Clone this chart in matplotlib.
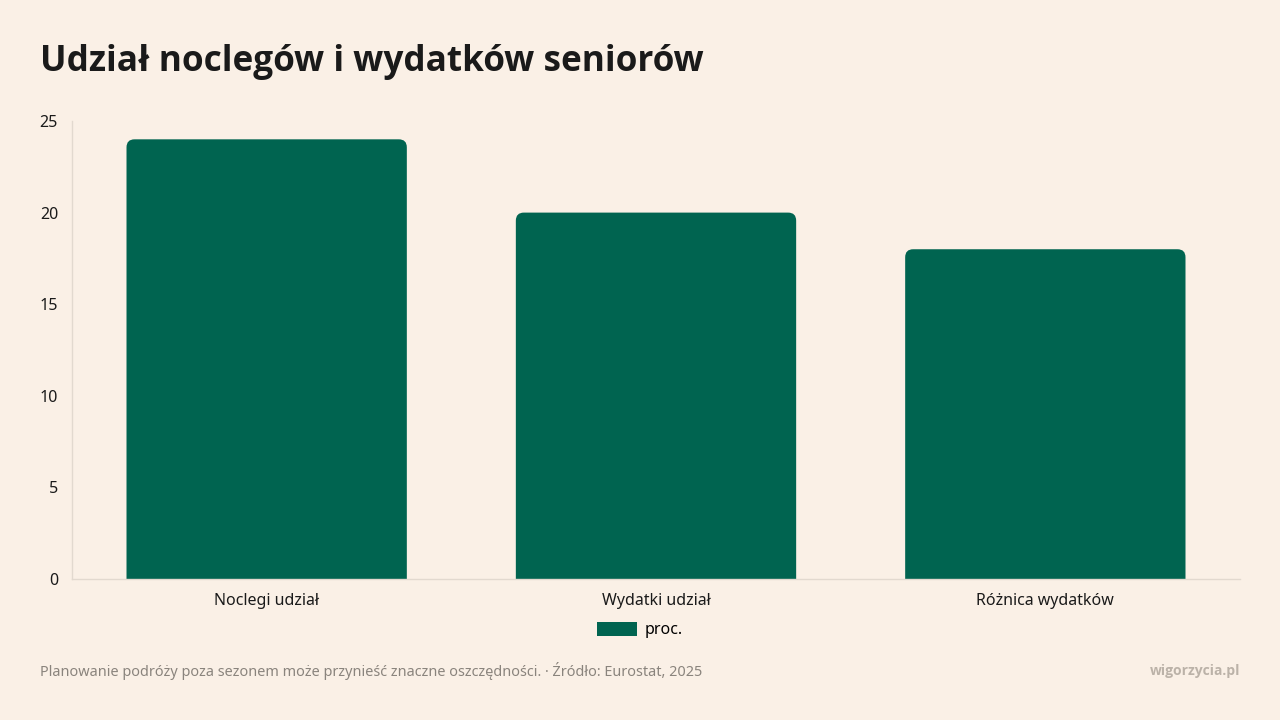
import matplotlib
matplotlib.use('Agg')
import matplotlib.pyplot as plt
from matplotlib.patches import FancyBboxPatch

plt.rcParams['font.family'] = ['Noto Sans', 'DejaVu Sans']

categories = ['Noclegi udział', 'Wydatki udział', 'Różnica wydatków']
values = [24, 20, 18]
series_name = 'proc.'
yticks = [0, 5, 10, 15, 20, 25]

bg = '#faf0e6'
green = '#006450'

fig = plt.figure(figsize=(12.8, 7.2), dpi=100, facecolor=bg)
ax = fig.add_axes([72/1280, 1-579/720, 1168/1280, 458/720])
ax.set_facecolor(bg)

x = list(range(len(categories)))
width = 0.72
bars = ax.bar(x, values, width=width, color=green, label=series_name)

ax.set_xlim(-0.5, len(categories) - 0.5)
ax.set_ylim(0, 25)

# rounded top corners: swap each bar for a fancy box that starts below 0
# so the bottom rounding gets clipped off by the axes
xpp = 3 / 1168
ypp = 25 / 458
for b in bars:
    b.set_visible(False)
    patch = FancyBboxPatch((b.get_x(), -1), b.get_width(), b.get_height() + 1,
                           boxstyle='round,pad=0,rounding_size=%f' % (8 * xpp),
                           mutation_aspect=ypp / xpp,
                           facecolor=green, edgecolor='none')
    ax.add_patch(patch)

ax.set_xticks(x)
ax.set_xticklabels(categories, fontsize=11.5, color='#1a1a1a')
ax.set_yticks(yticks)
ax.set_yticklabels([str(t) for t in yticks], fontsize=11.5, color='#1a1a1a')
ax.tick_params(length=0)
ax.tick_params(axis='x', pad=10)
ax.tick_params(axis='y', pad=10)
for s in ['top', 'right']:
    ax.spines[s].set_visible(False)
for s in ['left', 'bottom']:
    ax.spines[s].set_color('#e2d9cf')
    ax.spines[s].set_linewidth(1)

leg = fig.legend(handles=[bars], labels=[series_name], loc='center',
                 bbox_to_anchor=(0.5, 1-630/720), frameon=False, fontsize=11.5,
                 handlelength=2.5, handleheight=1.0, handletextpad=0.5)
for h in leg.legend_handles:
    h.set_visible(True)

fig.text(40/1280, 1-62/720, 'Udział noclegów i wydatków seniorów',
         fontsize=25.3, fontweight='bold', family=['Open Sans', 'DejaVu Sans'],
         color='#1a1a1a', va='center', ha='left')
fig.text(40/1280, 1-671/720,
         'Planowanie podróży poza sezonem może przynieść znaczne oszczędności. · Źródło: Eurostat, 2025',
         fontsize=10.4, color='#8a847d', va='center', ha='left')
fig.text(1240/1280, 1-671/720, 'wigorzycia.pl', fontsize=10, fontweight='bold',
         family=['Open Sans', 'DejaVu Sans'],
         color='#bbb2a8', va='center', ha='right')

fig.savefig('out.png', dpi=100, facecolor=bg)
